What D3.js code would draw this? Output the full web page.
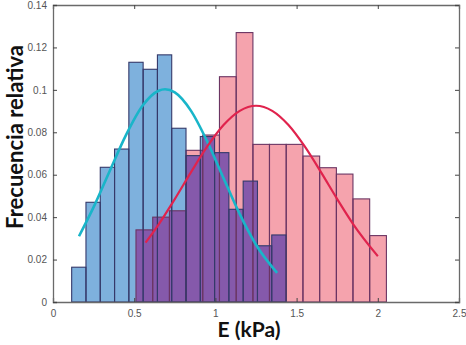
<!DOCTYPE html>
<html><head><meta charset="utf-8">
<script src="https://cdn.jsdelivr.net/npm/d3@7"></script>
<style>body{margin:0;background:#fff}svg{display:block}</style>
</head><body>
<svg id="c" width="466" height="345"></svg>
<script>
// ---- data ----
const blueEdges = [0.115,0.203,0.291,0.379,0.467,0.555,0.643,0.731,0.819,0.907,0.995,1.083,1.171,1.259,1.347,1.435];
const blueValues = [0.0164,0.047,0.0635,0.0721,0.113,0.1097,0.1165,0.0819,0.069,0.078,0.0704,0.0437,0.057,0.0265,0.0316];
const pinkEdges = [0.511,0.614,0.717,0.819,0.922,1.025,1.128,1.231,1.333,1.436,1.539,1.642,1.745,1.847,1.950,2.053];
const pinkValues = [0.034,0.040,0.043,0.0715,0.0787,0.1062,0.127,0.0743,0.0743,0.0743,0.0688,0.0633,0.0603,0.0486,0.0313];
const cyanX = [0.16,0.25,0.35,0.45,0.55,0.65,0.69,0.75,0.85,0.95,1.05,1.15,1.25,1.38];
const cyanY = [0.031,0.0447,0.0619,0.0788,0.0924,0.0996,0.1003,0.0988,0.0901,0.0756,0.0584,0.0414,0.027,0.0137];
const redX = [0.57,0.65,0.75,0.85,0.95,1.05,1.15,1.25,1.35,1.45,1.55,1.65,1.75,1.85,2.0];
const redY = [0.028,0.0365,0.0485,0.0612,0.0733,0.0834,0.0901,0.0925,0.0901,0.0834,0.0733,0.0612,0.0485,0.0365,0.0216];
const xTicks = [0,0.5,1,1.5,2,2.5];
const xTickLabels = ["0","0.5","1","1.5","2","2.5"];
const yTicks = [0,0.02,0.04,0.06,0.08,0.1,0.12,0.14];
const yTickLabels = ["0","0.02","0.04","0.06","0.08","0.1","0.12","0.14"];
const xTitle = "E (kPa)";
const yTitle = "Frecuencia relativa";

// ---- layout ----
const L = 53, T = 5, W = 406, H = 297;
const svg = d3.select("#c");
const x = d3.scaleLinear().domain([0,2.5]).range([L, L+W]);
const y = d3.scaleLinear().domain([0,0.14]).range([T+H, T]);

const blueBins = blueValues.map((v,i)=>({x0:blueEdges[i],x1:blueEdges[i+1],v}));
const pinkBins = pinkValues.map((v,i)=>({x0:pinkEdges[i],x1:pinkEdges[i+1],v}));
const overlap = [];
blueBins.forEach(b=>pinkBins.forEach(p=>{
  const a = Math.max(b.x0,p.x0), e = Math.min(b.x1,p.x1);
  if (e > a) overlap.push({x0:a,x1:e,v:Math.min(b.v,p.v)});
}));

const g = svg.append("g");
function bars(data, fill, stroke, sw){
  g.append("g").selectAll("rect").data(data).join("rect")
    .attr("x", d=>x(d.x0)).attr("width", d=>x(d.x1)-x(d.x0))
    .attr("y", d=>y(d.v)).attr("height", d=>y(0)-y(d.v))
    .attr("fill", fill).attr("stroke", stroke).attr("stroke-width", sw);
}
bars(pinkBins, "#f5a3ad", "none", 0);
bars(blueBins, "#7eb1dd", "none", 0);
bars(overlap, "#8559ab", "none", 0);
bars(pinkBins, "none", "#6b3563", 1.1);
bars(blueBins, "none", "#35396a", 1.1);

const line = d3.line().x(d=>x(d[0])).y(d=>y(d[1])).curve(d3.curveMonotoneX);
g.append("path").datum(cyanX.map((v,i)=>[v,cyanY[i]])).attr("d", line)
  .attr("fill","none").attr("stroke","#19b5c9").attr("stroke-width",2.6);
g.append("path").datum(redX.map((v,i)=>[v,redY[i]])).attr("d", line)
  .attr("fill","none").attr("stroke","#e0234d").attr("stroke-width",2.2);

// ---- axes ----
const axCol = "#6a6a6a";
const xa = svg.append("g").attr("transform",`translate(0,${T+H})`)
  .call(d3.axisBottom(x).tickValues(xTicks).tickFormat((d,i)=>xTickLabels[i]).tickSize(-4).tickPadding(8));
const xt = svg.append("g").attr("transform",`translate(0,${T})`)
  .call(d3.axisTop(x).tickValues(xTicks).tickFormat("").tickSize(-4));
const ya = svg.append("g").attr("transform",`translate(${L},0)`)
  .call(d3.axisLeft(y).tickValues(yTicks).tickFormat((d,i)=>yTickLabels[i]).tickSize(-4).tickPadding(6));
const yr = svg.append("g").attr("transform",`translate(${L+W},0)`)
  .call(d3.axisRight(y).tickValues(yTicks).tickFormat("").tickSize(-4));
[xa,xt,ya,yr].forEach(a=>{
  a.select(".domain").attr("stroke",axCol).attr("stroke-width",1.3);
  a.selectAll(".tick line").attr("stroke","#444");
  a.selectAll("text").attr("fill","#555").attr("font-family","'Liberation Sans', Arial, sans-serif").attr("font-size",10);
});

svg.append("text").attr("x", 249).attr("y", 337).attr("text-anchor","middle")
  .attr("font-family","Lato, 'Open Sans', sans-serif").attr("font-weight","bold").attr("font-size",21)
  .attr("fill","#111").text(xTitle);
svg.append("text").attr("transform","translate(23,137) rotate(-90)").attr("text-anchor","middle")
  .attr("font-family","Lato, 'Open Sans', sans-serif").attr("font-weight","bold").attr("font-size",22)
  .attr("fill","#111").text(yTitle);
</script>
</body></html>
